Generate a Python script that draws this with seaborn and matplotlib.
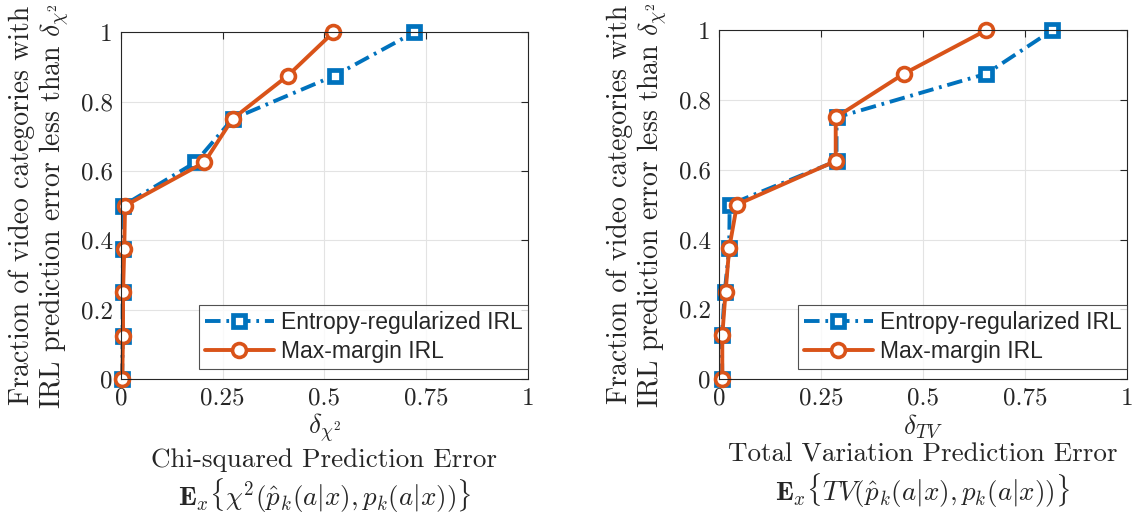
import matplotlib
matplotlib.use("Agg")
import matplotlib.pyplot as plt
import seaborn as sns
import pandas as pd

# fraction of categories (y axis, shared)
fraction = [0, 0.125, 0.25, 0.375, 0.5, 0.625, 0.75, 0.875, 1]

# chi-squared prediction error
chi_entropy = [0.003, 0.004, 0.004, 0.005, 0.005, 0.183, 0.274, 0.525, 0.721]
chi_maxmargin = [0.003, 0.005, 0.005, 0.008, 0.010, 0.205, 0.274, 0.41, 0.522]

# total variation prediction error
tv_entropy = [0.008, 0.007, 0.014, 0.025, 0.026, 0.288, 0.288, 0.655, 0.817]
tv_maxmargin = [0.008, 0.008, 0.016, 0.025, 0.044, 0.286, 0.286, 0.453, 0.655]

x_ticks = [0, 0.25, 0.5, 0.75, 1]
y_ticks = [0, 0.2, 0.4, 0.6, 0.8, 1]
x_tick_labels = ["0", "0.25", "0.5", "0.75", "1"]
y_tick_labels = ["0", "0.2", "0.4", "0.6", "0.8", "1"]

BLUE = "#0072BD"
ORANGE = "#D95319"

sns.set_style("whitegrid")
plt.rcParams["font.family"] = ["cmr10", "DejaVu Serif"]
plt.rcParams["mathtext.fontset"] = "cm"
plt.rcParams["axes.unicode_minus"] = False

ylabel = "Fraction of video categories with\nIRL prediction error less than $\\delta_{\\chi^2}$"

panels = [
    (chi_entropy, chi_maxmargin, [0.1066, 0.271, 0.3586, 0.667],
     "$\\delta_{\\chi^2}$\nChi-squared Prediction Error\n"
     "$\\mathbf{E}_x\\{\\chi^2(\\hat{p}_k(a|x),p_k(a|x))\\}$"),
    (tv_entropy, tv_maxmargin, [0.6335, 0.271, 0.3595, 0.671],
     "$\\delta_{TV}$\nTotal Variation Prediction Error\n"
     "$\\mathbf{E}_x\\{TV(\\hat{p}_k(a|x),p_k(a|x))\\}$"),
]

fig = plt.figure(figsize=(11.35, 5.2), dpi=100)

for ent, mm, rect, xlabel in panels:
    ax = fig.add_axes(rect)
    df = pd.DataFrame({"x_ent": ent, "x_mm": mm, "frac": fraction})
    sns.lineplot(data=df, x="x_ent", y="frac", ax=ax, sort=False, estimator=None,
                 color=BLUE, lw=2.8, marker="s", markersize=8,
                 markerfacecolor="white", markeredgecolor=BLUE, markeredgewidth=3.4,
                 label="Entropy-regularized IRL")
    ax.lines[-1].set_dashes([4.0, 1.5, 0.7, 1.5])
    sns.lineplot(data=df, x="x_mm", y="frac", ax=ax, sort=False, estimator=None,
                 color=ORANGE, lw=2.8, marker="o", markersize=10,
                 markerfacecolor="white", markeredgecolor=ORANGE, markeredgewidth=2.6,
                 label="Max-margin IRL")
    for ln in ax.lines:
        ln.set_clip_on(False)

    ax.set_xlim(0, 1)
    ax.set_ylim(0, 1)
    ax.set_xticks(x_ticks)
    ax.set_xticklabels(x_tick_labels, fontsize=18)
    ax.set_yticks(y_ticks)
    ax.set_yticklabels(y_tick_labels, fontsize=18)
    ax.grid(True, color="#e3e3e3", lw=0.8)
    for s in ax.spines.values():
        s.set_color("#262626")
        s.set_linewidth(0.8)
    ax.tick_params(direction="in", length=5, width=0.8, color="#262626",
                   top=True, right=True, pad=6, labelcolor="#262626")
    ax.set_xlabel(xlabel, fontsize=19.5, linespacing=1.15, labelpad=2)
    ax.set_ylabel(ylabel, fontsize=20, linespacing=1.15, labelpad=6)

    leg = ax.legend(loc="lower right", bbox_to_anchor=(1.0, 0.03), frameon=True,
                    fancybox=False, borderaxespad=0.0, handlelength=3.0,
                    borderpad=0.25, labelspacing=0.25, handletextpad=0.3,
                    prop={"family": "Liberation Sans", "size": 16.5})
    leg.get_frame().set_edgecolor("#262626")
    leg.get_frame().set_linewidth(0.8)

fig.savefig("out.png", dpi=100)
